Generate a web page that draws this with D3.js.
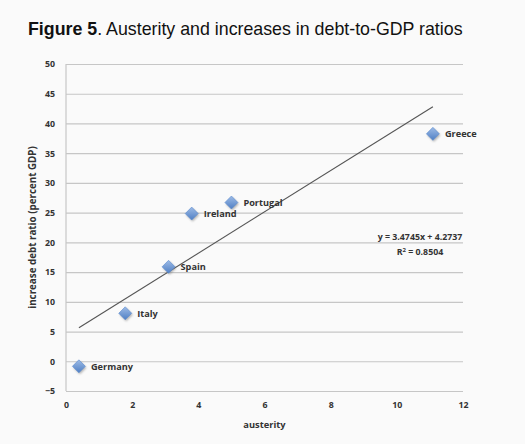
<!DOCTYPE html>
<html>
<head>
<meta charset="utf-8">
<script src="https://cdn.jsdelivr.net/npm/d3@7"></script>
<style>
  body { margin: 0; background: #fafafa; }
  svg { display: block; }
</style>
</head>
<body>
<svg id="chart"></svg>
<script>
// data
const countries = ["Germany", "Italy", "Spain", "Ireland", "Portugal", "Greece"];
const austerity = [0.39, 1.79, 3.10, 3.80, 5.00, 11.09];
const debtIncrease = [-0.85, 8.07, 15.88, 24.84, 26.70, 38.25];
const xTicks = [0, 2, 4, 6, 8, 10, 12];
const yTicks = [-5, 0, 5, 10, 15, 20, 25, 30, 35, 40, 45, 50];
const slope = 3.4745, intercept = 4.2737, rSquared = 0.8504;

let width = 525, height = 444,
    margin = {left: 66, right: 62, top: 64, bottom: 53},
    xScale = d3.scaleLinear().domain([0, 12]).range([margin.left, width - margin.right]),
    yScale = d3.scaleLinear().domain([-5, 50]).range([height - margin.bottom, margin.top]),
    points = countries.map((c, i) => ({name: c, x: austerity[i], y: debtIncrease[i]}));

let svg = d3.select("#chart").attr("width", width).attr("height", height);

svg.append("rect").attr("width", width).attr("height", height).attr("fill", "#fafafa");

let defs = svg.append("defs");
let grad = defs.append("linearGradient").attr("id", "dia").attr("x1", 0).attr("y1", 0).attr("x2", 0).attr("y2", 1);
grad.append("stop").attr("offset", "0%").attr("stop-color", "#9dbbe6");
grad.append("stop").attr("offset", "100%").attr("stop-color", "#4f7fc4");
let blur = defs.append("filter").attr("id", "shadow").attr("x", "-50%").attr("y", "-50%").attr("width", "200%").attr("height", "200%");
blur.append("feGaussianBlur").attr("stdDeviation", 1.2);

// title
let title = svg.append("text")
  .attr("x", 28).attr("y", 35)
  .attr("font-family", "Liberation Sans, Arial, sans-serif")
  .attr("font-size", 17.8)
  .attr("fill", "#111");
title.append("tspan").attr("font-weight", "bold").text("Figure 5");
title.append("tspan").text(". Austerity and increases in debt-to-GDP ratios");

// y gridlines + axis
let yAxis = svg.append("g")
  .attr("transform", `translate(${margin.left},0)`)
  .call(d3.axisLeft(yScale).tickValues(yTicks).tickSize(-(width - margin.left - margin.right)).tickPadding(11));
yAxis.select(".domain").remove();
yAxis.selectAll(".tick line").attr("stroke", "#c6c6c6").attr("stroke-width", 1.2);
yAxis.selectAll(".tick text")
  .attr("font-family", "Open Sans, DejaVu Sans, sans-serif")
  .attr("font-weight", "bold").attr("font-size", 8.8).attr("fill", "#333");

svg.append("line")
  .attr("x1", margin.left).attr("x2", margin.left)
  .attr("y1", yScale(50)).attr("y2", yScale(-5))
  .attr("stroke", "#c6c6c6").attr("stroke-width", 1.2);

// x tick labels
let xAxis = svg.append("g")
  .attr("transform", `translate(0,${yScale(-5)})`)
  .call(d3.axisBottom(xScale).tickValues(xTicks).tickSize(0).tickPadding(11));
xAxis.select(".domain").remove();
xAxis.selectAll(".tick text")
  .attr("font-family", "Open Sans, DejaVu Sans, sans-serif")
  .attr("font-weight", "bold").attr("font-size", 8.8).attr("fill", "#333");

// axis titles
svg.append("text")
  .attr("x", xScale(6)).attr("y", 428)
  .attr("text-anchor", "middle")
  .attr("font-family", "Open Sans, DejaVu Sans, sans-serif")
  .attr("font-weight", "bold").attr("font-size", 9.3).attr("fill", "#333")
  .text("austerity");

svg.append("text")
  .attr("transform", `translate(36,${yScale(22.5)}) rotate(-90)`)
  .attr("text-anchor", "middle")
  .attr("font-family", "Open Sans, DejaVu Sans, sans-serif")
  .attr("font-weight", "bold").attr("font-size", 9.8).attr("fill", "#333")
  .text("increase debt ratio (percent GDP)");

// trend line
let xMin = d3.min(austerity), xMax = d3.max(austerity);
svg.append("line")
  .attr("x1", xScale(xMin)).attr("y1", yScale(slope * xMin + intercept))
  .attr("x2", xScale(xMax)).attr("y2", yScale(slope * xMax + intercept))
  .attr("stroke", "#555").attr("stroke-width", 1.1);

// markers
let diamond = "M0,-6.5L6.5,0L0,6.5L-6.5,0Z";
let marks = svg.selectAll(".pt").data(points).enter().append("g")
  .classed("pt", true)
  .attr("transform", d => `translate(${xScale(d.x)},${yScale(d.y)})`);
marks.append("path").attr("d", diamond).attr("transform", "translate(1,1.5)")
  .attr("fill", "#777").attr("opacity", 0.55).attr("filter", "url(#shadow)");
marks.append("path").attr("d", diamond).attr("fill", "url(#dia)")
  .attr("stroke", "#5b8bd0").attr("stroke-width", 0.6);

marks.append("text")
  .attr("x", 12).attr("y", 0).attr("dy", "0.35em")
  .attr("font-family", "Open Sans, DejaVu Sans, sans-serif")
  .attr("font-weight", "bold").attr("font-size", 9.2).attr("fill", "#333")
  .text(d => d.name);

// equation
let eq = svg.append("text")
  .attr("x", 420).attr("y", 240)
  .attr("text-anchor", "middle")
  .attr("font-family", "Open Sans, DejaVu Sans, sans-serif")
  .attr("font-weight", "bold").attr("font-size", 8.8).attr("fill", "#333")
  .text(`y = ${slope}x + ${intercept}`);
let r2 = svg.append("text")
  .attr("x", 420).attr("y", 255)
  .attr("text-anchor", "middle")
  .attr("font-family", "Open Sans, DejaVu Sans, sans-serif")
  .attr("font-weight", "bold").attr("font-size", 8.8).attr("fill", "#333");
r2.append("tspan").text("R");
r2.append("tspan").attr("font-size", 6).attr("dy", -3.5).text("2");
r2.append("tspan").attr("dy", 3.5).text(` = ${rSquared}`);
</script>
</body>
</html>
